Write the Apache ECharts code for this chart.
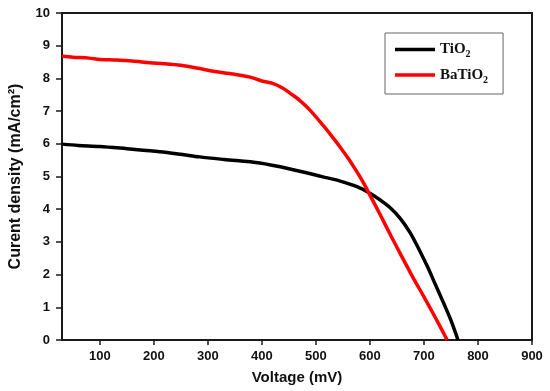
<!DOCTYPE html>
<html><head><meta charset="utf-8">
<script src="https://cdn.jsdelivr.net/npm/echarts@6/dist/echarts.min.js"></script>
<style>html,body{margin:0;padding:0;background:#fff}#c{width:550px;height:391px}</style>
</head><body><div id="c"></div>
<script>
const xTicks = [100,200,300,400,500,600,700,800,900];
const tio2V = [30,60,100,150,211,250,285,330,396,452,513,545,576,600,619,637,656,674,690,706,720,735,750,763];
const tio2J = [5.99,5.95,5.92,5.85,5.76,5.68,5.60,5.52,5.41,5.23,4.99,4.86,4.69,4.49,4.28,4.05,3.72,3.29,2.80,2.26,1.74,1.18,0.60,0];
const batV = [30,50,80,100,130,160,193,220,250,285,310,340,378,400,420,439,452,470,489,513,530,544,560,576,590,600,620,640,660,680,700,720,743];
const batJ = [8.68,8.65,8.62,8.58,8.56,8.53,8.48,8.45,8.40,8.30,8.22,8.15,8.04,7.92,7.85,7.70,7.55,7.33,7.03,6.57,6.22,5.92,5.55,5.14,4.75,4.43,3.80,3.15,2.52,1.90,1.32,0.72,0];

const zip = (a,b)=>a.map((v,i)=>[v,b[i]]);
const axisCol = '#1a1a1a';
const chart = echarts.init(document.getElementById('c'));
chart.setOption({
  animation:false,
  grid:{left:62,right:18,top:13,bottom:51,show:true,borderColor:axisCol,borderWidth:2},
  xAxis:{type:'value',min:30,max:900,
    axisLine:{lineStyle:{color:axisCol,width:2}},
    axisTick:{show:true,length:5,customValues:xTicks,lineStyle:{color:axisCol,width:1.5}},
    axisLabel:{customValues:xTicks,margin:10,fontFamily:'Liberation Sans',fontWeight:'bold',fontSize:13,color:'#111'},
    splitLine:{show:false},
    name:'Voltage (mV)',nameLocation:'middle',nameGap:30,
    nameTextStyle:{fontFamily:'Liberation Sans',fontWeight:'bold',fontSize:15,color:'#111'}
  },
  yAxis:{type:'value',min:0,max:10,interval:1,
    axisLine:{show:true,lineStyle:{color:axisCol,width:2}},
    axisTick:{show:true,length:6,lineStyle:{color:axisCol,width:1.5}},
    axisLabel:{margin:12,fontFamily:'Liberation Sans',fontWeight:'bold',fontSize:13,color:'#111'},
    splitLine:{show:false},
    name:'Curent density (mA/cm²)',nameLocation:'middle',nameGap:38,
    nameTextStyle:{fontFamily:'Liberation Sans',fontWeight:'bold',fontSize:16,color:'#111'}
  },
  legend:{orient:'vertical',left:385,top:33,padding:[9,15,9,10],itemGap:8,
    borderColor:'#666',borderWidth:1,
    icon:'rect',itemWidth:40,itemHeight:3.5,
    data:['TiO2','BaTiO2'],
    formatter:n=>n.replace('2','{s|2}'),
    textStyle:{fontFamily:'Liberation Serif',fontWeight:'bold',fontSize:15,color:'#111',
      rich:{s:{fontFamily:'Liberation Serif',fontWeight:'bold',fontSize:10,padding:[10,0,0,0],color:'#111'}}}
  },
  series:[
    {name:'TiO2',type:'line',data:zip(tio2V,tio2J),showSymbol:false,symbol:'none',smooth:0.3,
      lineStyle:{color:'#000',width:3.5},itemStyle:{color:'#000'}},
    {name:'BaTiO2',type:'line',data:zip(batV,batJ),showSymbol:false,symbol:'none',smooth:0.3,
      lineStyle:{color:'#ff0000',width:3.5},itemStyle:{color:'#ff0000'}}
  ]
});
</script></body></html>
